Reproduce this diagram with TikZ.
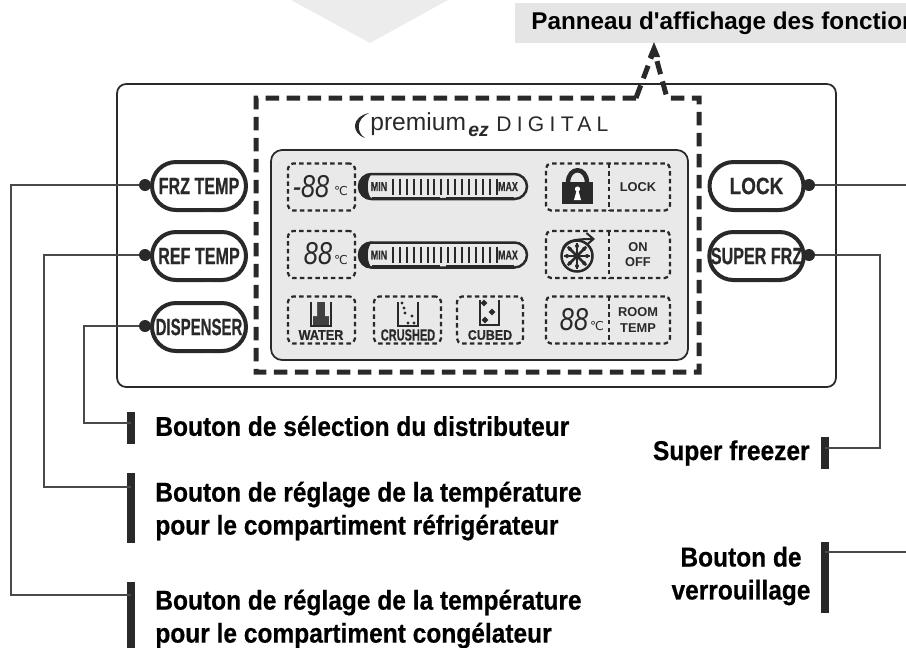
\documentclass[tikz,border=0pt]{standalone}
\usepackage{fontspec}
\setmainfont{Liberation Sans}
\newfontfamily\narrowfont[FakeStretch=0.68,BoldFeatures={FakeBold=0.5}]{Liberation Sans}
\newfontfamily\labelfont[FakeStretch=0.9,BoldFeatures={FakeBold=0.5}]{Liberation Sans}
\newfontfamily\digitfont[FakeStretch=0.8,BoldFeatures={FakeBold=0.5}]{Liberation Sans}
\newfontfamily\spacedfont[LetterSpace=25]{Liberation Sans}
\newfontfamily\capfont{Liberation Sans}
\newfontfamily\symfont{DejaVu Sans}
\usetikzlibrary{arrows.meta, positioning, shapes.misc, shapes.geometric}
\definecolor{inkdark}{gray}{0.16}
\def\pillh{0.96cm}

\begin{document}
\begin{tikzpicture}[x=0.02cm,y=-0.02cm,line join=miter]
    \tikzstyle{button}=[rounded rectangle,draw=inkdark,line width=0.08cm,fill=white,minimum width=1.88cm,minimum height=\pillh,inner sep=0pt,text=inkdark,font=\narrowfont\bfseries\fontsize{13.5}{14}\selectfont]
    \tikzstyle{dot}=[circle,fill=inkdark,minimum size=0.24cm,inner sep=0pt]
    \tikzstyle{wire}=[draw=inkdark!85,line width=0.035cm]
    \tikzstyle{bar}=[rectangle,fill=inkdark,minimum width=0.17cm,inner sep=0pt]
    \tikzstyle{callout}=[font=\labelfont\bfseries\fontsize{15.5}{16.5}\selectfont,text=black,inner sep=0pt]
    \tikzstyle{bigdash}=[draw=inkdark,line width=0.1cm,dash pattern=on 0.27cm off 0.15cm]
    \tikzstyle{segdash}=[draw=inkdark,line width=0.045cm,dash pattern=on 0.09cm off 0.065cm]
    \tikzstyle{segbox}=[segdash,rounded corners=0.1cm,minimum height=0.94cm,inner sep=0pt]
    \tikzstyle{tiny}=[font=\bfseries\fontsize{7.3}{9}\selectfont,text=inkdark,inner sep=0pt,align=center]
    \tikzstyle{digits}=[font=\digitfont\itshape\fontsize{18}{18}\selectfont,text=inkdark,inner sep=0pt]
    \tikzstyle{degree}=[font=\symfont\fontsize{7}{7}\selectfont,text=inkdark,inner sep=0pt]
    \tikzstyle{level}=[rounded rectangle,draw=inkdark,line width=0.05cm,minimum width=3.36cm,minimum height=0.5cm,inner sep=0pt]

    \useasboundingbox (0,0) rectangle (906,647);

    % Faded wedge at the top and the caption band
    \fill[gray!15] (291,0) -- (370,43) -- (448,0) -- cycle;
    \node[fill=gray!20,anchor=west,minimum height=0.8cm,inner xsep=0.32cm,font=\capfont\bfseries\fontsize{13.8}{15}\selectfont] (caption) at (515,23) {Panneau d'affichage des fonctions};

    % Outer panel and display
    \node[draw=inkdark,line width=0.035cm,rounded corners=0.18cm,minimum width=14.38cm,minimum height=6.06cm] (panel) at (476.5,235.5) {};
    \node[draw=inkdark,fill=gray!17,line width=0.035cm,rounded corners=0.22cm,minimum width=8.34cm,minimum height=4.2cm] (lcd) at (479.5,255) {};

    % Dashed frame with the way up to the caption
    \coordinate (tip) at (654,50);
    \draw[bigdash] (636,98) -- (256,98) -- (256,372) -- (699,372) -- (699,98) -- (667,98) -- (tip);
    \draw[bigdash] (636,98) -- (tip);
    \node[isosceles triangle,isosceles triangle apex angle=45,shape border rotate=90,fill=inkdark,minimum height=0.3cm,inner sep=0pt] (head) at (654,53) {};

    % Logo line
    \node[font=\fontsize{14}{16}\selectfont,text=inkdark,inner sep=0pt,anchor=west] (premium) at (370,124) {premium};
    \fill[inkdark] (369,113) .. controls (351,117) and (351,133) .. (365,138) .. controls (356,132) and (356,119) .. (369,113) -- cycle;
    \node[font=\bfseries\itshape\fontsize{11}{12}\selectfont,text=inkdark,inner sep=0pt,anchor=west] (ez) at (468,131) {ez};
    \node[font=\spacedfont\fontsize{12}{13}\selectfont,text=inkdark,inner sep=0pt,anchor=west] (digital) at (496,124) {DIGITAL};

    % Dashed fields of the display
    \node[segbox,minimum width=1.34cm] (frzfield) at (321.5,187) {};
    \node[segbox,minimum width=1.34cm] (reffield) at (321.5,254.5) {};
    \node[segbox,minimum width=1.34cm] (water) at (321.5,320) {};
    \node[segbox,minimum width=1.34cm] (crushed) at (407.5,320) {};
    \node[segbox,minimum width=1.32cm] (cubed) at (490,320) {};
    \foreach \name / \y in {lockfield/187,onfield/254.5,roomfield/320}{
        \node[segbox,minimum width=2.48cm] (\name) at (608,\y) {};
        \draw[segdash] (609,\y-23.5) -- (609,\y+23.5);
    }

    % Level bars
    \foreach \name / \y in {frzlevel/186.5,reflevel/255}{
        \node[level] (\name) at (443,\y) {};
        \fill[inkdark] (373,\y-13.5) .. controls (353,\y-13.5) and (353,\y+13.5) .. (373,\y+13.5) .. controls (366,\y+10) and (366,\y-10) .. (373,\y-13.5) -- cycle;
        \draw[inkdark,line width=0.07cm] (372,\y+12) -- (440,\y+12) (446,\y+12) -- (514,\y+12);
        \foreach \t in {0,...,15}
            \draw[inkdark,line width=0.04cm] (393+\t*6.9,\y-8) -- (393+\t*6.9,\y+8);
        \node[tiny,font=\narrowfont\bfseries\fontsize{7.4}{8}\selectfont] at (379,\y) {MIN};
        \node[tiny,font=\narrowfont\bfseries\fontsize{7.4}{8}\selectfont] at (508,\y) {MAX};
    }

    % Temperature readouts
    \node[digits] (frzdeg) at (311,187) {-88};
    \node[degree] at (341,191) {℃};
    \node[digits] (refdeg) at (318,254) {88};
    \node[degree] at (341,260) {℃};
    \node[digits] (roomdeg) at (574,320) {88};
    \node[degree] at (597,326) {℃};

    % Texts of the fields
    \node[tiny] at (638,187) {LOCK};
    \node[tiny] at (638,254.5) {ON\\OFF};
    \node[tiny] at (638,320) {ROOM\\TEMP};
    \node[tiny,font=\labelfont\bfseries\fontsize{8}{9}\selectfont] at (321,335) {WATER};
    \node[tiny,font=\narrowfont\bfseries\fontsize{9.2}{10}\selectfont] at (408,335) {CRUSHED};
    \node[tiny,font=\labelfont\bfseries\fontsize{7.9}{9}\selectfont] at (490,335) {CUBED};

    % Glasses
    \fill[gray!50!black] (313,302) rectangle (329,326);
    \fill[gray!17] (313,302) rectangle (317,316) (325,302) rectangle (329,316);
    \draw[inkdark,line width=0.035cm] (311,302) -- (311,326) -- (331,326) -- (331,302);
    \draw[inkdark,line width=0.035cm] (398,302) -- (398,326) -- (418,326) -- (418,302);
    \foreach \a / \b in {402/303,404/308,405/313,412/316,408/323,414/323}
        \fill[inkdark] (\a,\b) circle (1.6);
    \draw[inkdark,line width=0.035cm] (480,300) -- (480,325) -- (499,325) -- (499,300);
    \foreach \a / \b in {484/303,492/312,485/320}
        \node[diamond,fill=inkdark,minimum size=0.14cm,inner sep=0pt] at (\a,\b) {};

    % Padlock
    \fill[inkdark] (562,182) rectangle (593,204);
    \draw[inkdark,line width=0.09cm] (568,183) .. controls (568,166) and (587,166) .. (587,183);
    \fill[white] (577.5,189) circle (2.6);
    \fill[white] (577,189) -- (574,200) -- (581,200) -- (578,189) -- cycle;

    % Snowflake with the turning arrow
    \node[circle,draw=inkdark,line width=0.05cm,minimum size=0.62cm,inner sep=0pt] (flake) at (577,256) {};
    \foreach \a in {0,45,90,135}
        \draw[inkdark,line width=0.05cm] (flake.center) ++(\a:13) -- ++(\a+180:26);
    \foreach \a in {0,45,...,315}
        \fill[inkdark] (flake.center) ++(\a:10) circle (2);
    \draw[inkdark,line width=0.04cm,-{Straight Barb[length=0.14cm,width=0.24cm]}] (563,248) .. controls (567,241) and (572,239) .. (595,239);

    % Buttons
    \foreach \name / \lbl / \y in {FRZ/FRZ TEMP/186,REF/REF TEMP/256,DSP/\scalebox{0.93}[1]{DISPENSER}/327}{
        \node[button] (\name) at (199,\y) {\lbl};
        \node[dot] (\name-dot) at (145,\y-1) {};
        \fill[white] (204,\y-28) rectangle (212,\y-26.5) (204,\y+26.5) rectangle (212,\y+28);
    }
    \foreach \name / \lbl / \y in {LCK/\digitfont\bfseries LOCK/186,SPR/SUPER FRZ/256}{
        \node[button] (\name) at (756.5,\y) {\lbl};
        \node[dot] (\name-dot) at (809,\y-1) {};
        \fill[white] (761,\y-28) rectangle (769,\y-26.5) (761,\y+26.5) rectangle (769,\y+28);
    }

    % Bars at the end of the wires
    \node[bar,minimum height=0.64cm] (DSP-bar) at (131,428) {};
    \node[bar,minimum height=1.4cm] (REF-bar) at (131,508) {};
    \node[bar,minimum height=1.4cm] (FRZ-bar) at (131,617) {};
    \node[bar,minimum height=0.64cm] (SPR-bar) at (825,453) {};
    \node[bar,minimum height=1.42cm] (LCK-bar) at (825,577.5) {};

    % Connect every button with its bar
    \coordinate (FRZ-end) at (11,595);
    \coordinate (REF-end) at (44,487);
    \coordinate (DSP-end) at (84,423);
    \coordinate (SPR-end) at (880,448);
    \coordinate (LCK-edge) at (906,185);
    \coordinate (LCK-low) at (906,552);
    \draw[wire] (FRZ-dot) -| (FRZ-end) -- (FRZ-bar.center |- FRZ-end);
    \draw[wire] (REF-dot) -| (REF-end) -- (REF-bar.center |- REF-end);
    \draw[wire] (DSP-dot) -| (DSP-end) -- (DSP-bar.center |- DSP-end);
    \draw[wire] (SPR-dot) -| (SPR-end) -- (SPR-bar.center |- SPR-end);
    \draw[wire] (LCK-dot) -- (LCK-edge);
    \draw[wire] (LCK-bar.center |- LCK-low) -- (LCK-low);

    % Texts beside the bars
    \node[callout,anchor=west] (DSP-text) at (155,426) {Bouton de sélection du distributeur};
    \node[callout,anchor=west,align=left] (REF-text) at (155,511) {Bouton de réglage de la température\\[0.08cm]pour le compartiment réfrigérateur};
    \node[callout,anchor=west,align=left] (FRZ-text) at (155,619) {Bouton de réglage de la température\\[0.08cm]pour le compartiment congélateur};
    \node[callout,anchor=east] (SPR-text) at (810,453) {Super freezer};
    \node[callout,align=center] (LCK-text) at (741,576) {Bouton de\\[0.08cm]verrouillage};
\end{tikzpicture}
\end{document}
